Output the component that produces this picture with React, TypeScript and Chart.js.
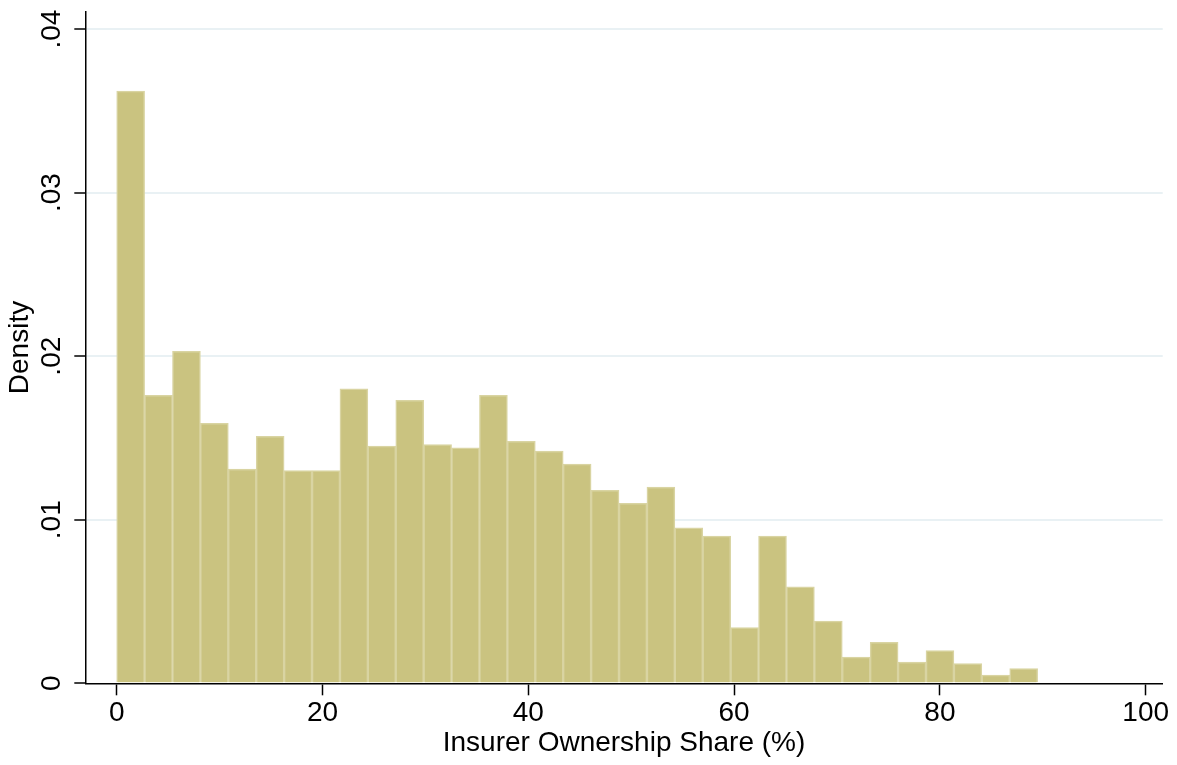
import { useEffect, useRef } from 'react';
import { Chart, registerables } from 'chart.js';

Chart.register(...registerables);

// histogram bins (x in %, density per bin)
const binStart = 0;
const binWidth = 2.712;
const densities = [
  0.0362, 0.0176, 0.0203, 0.0159, 0.0131, 0.0151, 0.013, 0.013, 0.018, 0.0145,
  0.0173, 0.0146, 0.0144, 0.0176, 0.0148, 0.0142, 0.0134, 0.0118, 0.011, 0.012,
  0.0095, 0.009, 0.0034, 0.009, 0.0059, 0.0038, 0.0016, 0.0025, 0.0013, 0.002,
  0.0012, 0.0005, 0.0009,
];

const xTicks = [0, 20, 40, 60, 80, 100];
const yTicks = [0, 0.01, 0.02, 0.03, 0.04];
const yTickLabels = ['0', '.01', '.02', '.03', '.04'];

const xTitle = 'Insurer Ownership Share (%)';
const yTitle = 'Density';

const FONT = '"Liberation Sans", Arial, Helvetica, sans-serif';
const FS = 28;

export default function App() {
  const canvasRef = useRef<HTMLCanvasElement>(null);
  const chartRef = useRef<Chart | null>(null);

  useEffect(() => {
    if (!canvasRef.current) return;
    if (chartRef.current) chartRef.current.destroy();

    const points = densities.map((d, i) => ({
      x: binStart + binWidth * (i + 0.5),
      y: d,
    }));

    chartRef.current = new Chart(canvasRef.current, {
      type: 'bar',
      data: {
        datasets: [
          {
            data: points,
            backgroundColor: '#CAC380',
            borderColor: '#D9D4A2',
            borderWidth: 1.5,
            borderSkipped: 'start',
            barPercentage: 1,
            categoryPercentage: 1,
          },
        ],
      },
      options: {
        animation: false,
        responsive: true,
        maintainAspectRatio: false,
        layout: { padding: { top: 11.7, right: 14.3, left: 0, bottom: 0 } },
        plugins: {
          legend: { display: false },
          tooltip: { enabled: false },
        },
        scales: {
          x: {
            type: 'linear',
            min: -3.05,
            max: 101.65,
            offset: false,
            afterBuildTicks: (s: any) => {
              s.ticks = xTicks.map((v) => ({ value: v }));
            },
            afterFit: (s: any) => {
              s.height = 81.7;
              s.paddingLeft = 0;
              s.paddingRight = 0;
            },
            border: { display: true, color: '#000', width: 1.5 },
            grid: {
              offset: false,
              drawOnChartArea: false,
              drawTicks: true,
              tickLength: 12,
              tickColor: '#000',
              tickWidth: 1.5,
            },
            ticks: {
              color: '#000',
              padding: 1.2,
              maxRotation: 0,
              autoSkip: false,
              font: { family: FONT, size: FS, lineHeight: 1.2 },
              callback: (v: any) => String(v),
            },
            title: {
              display: true,
              text: xTitle,
              color: '#000',
              padding: { top: 0, bottom: 4.9 },
              font: { family: FONT, size: FS, lineHeight: 1.2 },
            },
          },
          y: {
            type: 'linear',
            min: 0,
            max: 0.04106,
            afterBuildTicks: (s: any) => {
              s.ticks = yTicks.map((v) => ({ value: v }));
            },
            afterFit: (s: any) => {
              s.width = 85.3;
              s.paddingTop = 0;
              s.paddingBottom = 0;
            },
            border: { display: true, color: '#000', width: 1.5 },
            grid: {
              drawOnChartArea: true,
              drawTicks: true,
              tickLength: 11,
              tickColor: '#000',
              tickWidth: 1.5,
              lineWidth: 2,
              color: (ctx: any) =>
                ctx.tick && ctx.tick.value === 0 ? 'rgba(0,0,0,0)' : '#E9F1F4',
            },
            ticks: {
              color: '#000',
              padding: 2.5,
              minRotation: 90,
              maxRotation: 90,
              crossAlign: 'center',
              autoSkip: false,
              font: { family: FONT, size: FS, lineHeight: 1.2 },
              callback: (v: any) => {
                const i = yTicks.indexOf(v);
                return i >= 0 ? yTickLabels[i] : '';
              },
            },
            title: {
              display: true,
              text: yTitle,
              color: '#000',
              padding: { top: 3.5, bottom: 0 },
              font: { family: FONT, size: FS, lineHeight: 1.2 },
            },
          },
        },
      },
    });

    return () => {
      if (chartRef.current) {
        chartRef.current.destroy();
        chartRef.current = null;
      }
    };
  }, []);

  return (
    <div
      style={{
        position: 'absolute',
        left: 0,
        top: 0,
        width: '1177px',
        height: '765px',
        background: '#fff',
      }}
    >
      <canvas ref={canvasRef} />
    </div>
  );
}
